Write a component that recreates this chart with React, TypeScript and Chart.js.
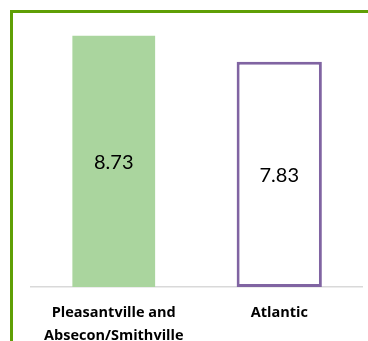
import React, { useEffect, useRef } from "react";
import { Chart, registerables } from "chart.js";

Chart.register(...registerables);

const categories: (string | string[])[] = [["Pleasantville and", "Absecon/Smithville"], "Atlantic"];
const regionValues: (number | null)[] = [8.73, null];
const countyValues: (number | null)[] = [null, 7.83];
const valueLabels: string[] = ["8.73", "7.83"];

const valueLabelPlugin = {
  id: "valueLabels",
  afterDatasetsDraw(chart: any) {
    const ctx = chart.ctx;
    ctx.save();
    ctx.font = '20px Lato, sans-serif';
    ctx.fillStyle = "#000000";
    ctx.textAlign = "center";
    ctx.textBaseline = "middle";
    chart.data.datasets.forEach((ds: any, di: number) => {
      const meta = chart.getDatasetMeta(di);
      meta.data.forEach((bar: any, i: number) => {
        if (ds.data[i] == null) return;
        const p = bar.getProps(["x", "y", "base"], true);
        ctx.fillText(valueLabels[i], p.x, (p.y + p.base) / 2 + 1.5);
      });
    });
    ctx.restore();
  },
};

export default function App() {
  const ref = useRef<HTMLCanvasElement>(null);
  useEffect(() => {
    if (!ref.current) return;
    const chart = new Chart(ref.current, {
      type: "bar",
      data: {
        labels: categories,
        datasets: [
          {
            data: regionValues,
            backgroundColor: "#aad59e",
            borderWidth: 0,
            barPercentage: 0.5,
            categoryPercentage: 1,
            grouped: false,
          },
          {
            data: countyValues,
            backgroundColor: "#ffffff",
            borderColor: "#8064a2",
            borderWidth: 3,
            borderSkipped: false,
            barPercentage: 0.515,
            categoryPercentage: 1,
            grouped: false,
          },
        ],
      },
      options: {
        responsive: false,
        animation: false,
        layout: { padding: { left: 31, right: 6, top: 28, bottom: 0 } },
        plugins: { legend: { display: false }, tooltip: { enabled: false } },
        scales: {
          y: { display: false, min: 0, max: 9 },
          x: {
            grid: { display: false, drawTicks: false },
            border: { display: true, color: "#d9d9d9", width: 1.5 },
            ticks: {
              color: "#000000",
              padding: 15,
              font: { family: '"Open Sans", sans-serif', size: 14.5, weight: "bold", lineHeight: "22.5px" },
              maxRotation: 0,
            },
            afterFit: (scale: any) => {
              scale.height = 54;
            },
          },
        },
      },
      plugins: [valueLabelPlugin],
    });
    return () => chart.destroy();
  }, []);
  return (
    <div style={{ position: "fixed", left: 0, top: 0, width: 368, height: 341, background: "#ffffff", overflow: "hidden" }}>
      <div
        style={{
          position: "absolute",
          left: 10,
          top: 10,
          width: 420,
          height: 420,
          border: "3px solid #5f9f05",
          boxSizing: "border-box",
        }}
      />
      <canvas ref={ref} width={368} height={341} style={{ position: "absolute", left: 0, top: 0 }} />
    </div>
  );
}
